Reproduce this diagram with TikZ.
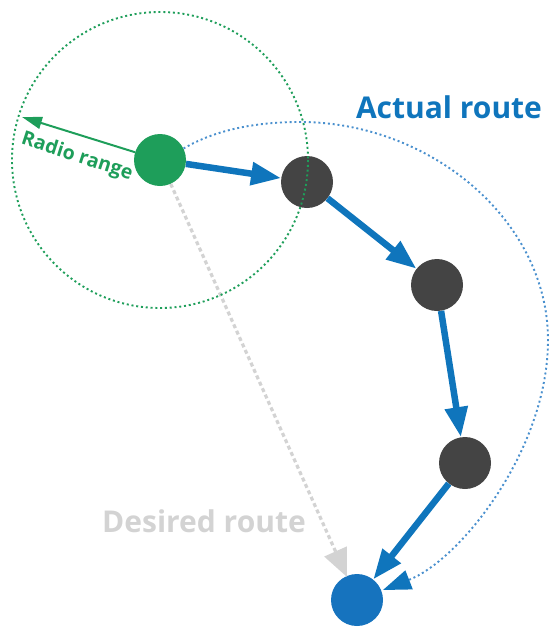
\documentclass[tikz,border=0pt]{standalone}
\usepackage{fontspec}
\setmainfont{Open Sans}
\usetikzlibrary{arrows.meta}
\definecolor{routeblue}{HTML}{0F75BC}
\definecolor{nodeblue}{HTML}{1673BE}
\definecolor{darknode}{HTML}{444444}
\definecolor{radiogreen}{HTML}{1E9E5A}
\definecolor{arcblue}{HTML}{4A90CE}
\definecolor{desgray}{HTML}{D3D3D3}
\tikzset{
  dot/.style={circle, inner sep=0pt, minimum size=52pt},
  greendot/.style={dot, fill=radiogreen},
  darkdot/.style={dot, fill=darknode},
  bluedot/.style={dot, fill=nodeblue},
  route/.style={draw=routeblue, line width=6.5pt, -{Triangle[length=30pt,width=22pt]}},
  radio/.style={draw=radiogreen, line width=2pt, -{Triangle[length=20pt,width=12pt]}},
  rangecircle/.style={draw=radiogreen, line width=1.9pt, dash pattern=on 2pt off 2.8pt},
  actualarc/.style={draw=arcblue, line width=1.9pt, dash pattern=on 2pt off 2.8pt, -{Triangle[length=28pt,width=20pt,color=routeblue]}},
  desired/.style={draw=desgray, line width=3.2pt, dash pattern=on 4pt off 3pt, -{Triangle[length=28pt,width=24pt]}},
  lbl/.style={font=\bfseries, inner sep=0pt}
}
\begin{document}
\begin{tikzpicture}[x=1pt,y=-1pt]
\useasboundingbox (0,0) rectangle (550,627);
% nodes
\node[greendot] (g) at (160,160) {};
\node[darkdot] (d1) at (307,182) {};
\node[darkdot] (d2) at (437,285) {};
\node[darkdot] (d3) at (465,463) {};
\node[bluedot] (b) at (357,600) {};
% free ends
\coordinate (rr) at (22,117);
\coordinate (dt) at (347,577);
\coordinate (at) at (383,590);
% desired route
\draw[desired] (g) -- (dt);
% actual route arc
\draw[actualarc] (g.26) .. controls (215,130) and (255,122) .. (300,122)
  .. controls (430,122) and (548,220) .. (548,340)
  .. controls (548,450) and (460,560) .. (at);
% radio range circle
\draw[rangecircle] (g.center) circle[radius=148];
% radio range arrow
\draw[radio] (g) -- (rr);
% route arrows
\draw[route] (g) -- (d1);
\draw[route] (d1) -- (d2);
\draw[route] (d2) -- (d3);
\draw[route] (d3) -- (b);
% labels
\node[lbl, text=radiogreen, font=\bfseries\fontsize{19.5}{22}\selectfont, rotate=-18] (rl) at (77,157) {Radio range};
\node[lbl, text=routeblue, font=\bfseries\fontsize{30}{34}\selectfont] (al) at (449,107) {Actual route};
\node[lbl, text=desgray, font=\bfseries\fontsize{30}{34}\selectfont] (dl) at (204,521) {Desired route};
\end{tikzpicture}
\end{document}
